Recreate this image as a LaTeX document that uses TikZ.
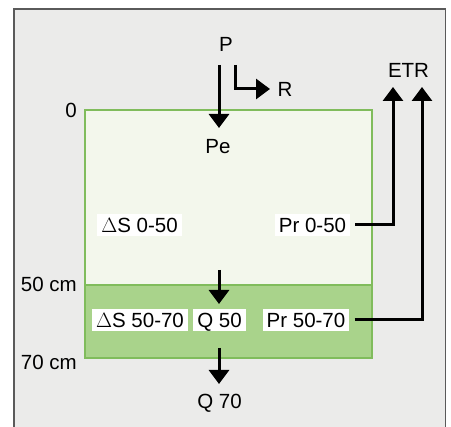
\documentclass[tikz,border=0pt]{standalone}
\usepackage{fontspec}
\setmainfont{Liberation Sans}
\usetikzlibrary{arrows.meta}
\definecolor{framegray}{HTML}{EBEBEA}
\definecolor{frameline}{HTML}{5A5A5A}
\definecolor{lightgreen}{HTML}{F3F7EC}
\definecolor{bandgreen}{HTML}{A9D38B}
\definecolor{greenline}{HTML}{80BC5C}
\tikzset{
  lbl/.style={font=\fontsize{20.5}{24}\selectfont, inner sep=0pt, anchor=base},
  boxlbl/.style={font=\fontsize{20.5}{24}\selectfont, fill=white, inner xsep=4pt, inner ysep=2pt, text height=17pt, text depth=1pt, anchor=base},
  arr/.style={line width=3pt, -{Triangle[width=20pt,length=14pt]}},
}
\begin{document}
\begin{tikzpicture}[x=1pt,y=-1pt]
\useasboundingbox (0,0) rectangle (451,427);
\fill[white] (0,0) rectangle (451,427);
% outer frame
\fill[framegray] (14,9) rectangle (445.5,430);
\draw[frameline, line width=1.1pt] (14,430) -- (14,9) -- (445.5,9) -- (445.5,430);
% soil layers
\fill[lightgreen] (85,110) rectangle (372,285);
\fill[bandgreen] (85,285) rectangle (372,358);
\draw[greenline, line width=1.4pt] (85,110) rectangle (372,358);
\draw[greenline, line width=1.4pt] (85,285) -- (372,285);
% depth labels
\node[lbl, anchor=base east] (d0) at (77,118) {0};
\node[lbl, anchor=base east] (d50) at (77,292) {50 cm};
\node[lbl, anchor=base east] (d70) at (77,370) {70 cm};
% top labels
\node[lbl] (P) at (226,52) {P};
\node[lbl] (R) at (285,97) {R};
\node[lbl] (ETR) at (408.5,78) {ETR};
\node[lbl] (Pe) at (218,154) {Pe};
% labels inside soil
\node[boxlbl] (S0) at (139.5,233) {$\Delta$S 0-50};
\node[boxlbl] (Pr0) at (312.5,233) {Pr 0-50};
\node[boxlbl] (S50) at (140,328) {$\Delta$S 50-70};
\node[boxlbl] (Q50) at (219.5,328) {Q 50};
\node[boxlbl] (Pr50) at (306,328) {Pr 50-70};
\node[lbl] (Q70) at (219.5,409) {Q 70};
% connector end points
\coordinate (pa) at (219,65);
\coordinate (pb) at (219,128);
\coordinate (ra) at (235,65);
\coordinate (rb) at (270,89);
\coordinate (e1) at (393,87);
\coordinate (e2) at (422,87);
\coordinate (qa) at (219,270);
\coordinate (qb) at (219,304);
\coordinate (qc) at (219,348);
\coordinate (qd) at (219,384);
% arrows
\draw[arr] (pa) -- (pb);
\draw[arr] (ra) |- (rb);
\draw[arr] ([xshift=5pt]Pr0.east) -| (e1);
\draw[arr] ([xshift=5pt]Pr50.east) -| (e2);
\draw[arr] (qa) -- (qb);
\draw[arr] (qc) -- (qd);
\end{tikzpicture}
\end{document}
